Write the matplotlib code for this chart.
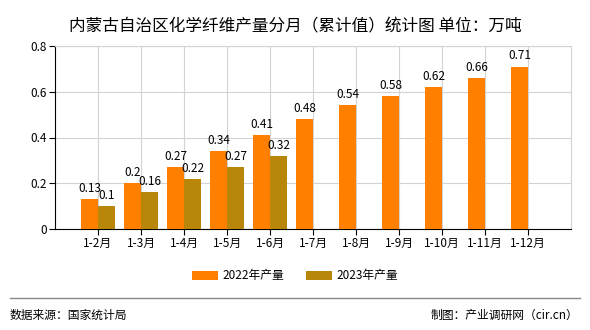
import numpy as np
import matplotlib.pyplot as plt

plt.rcParams['font.family'] = ['Noto Sans CJK SC', 'DejaVu Sans']

# data
months = ["1-2月", "1-3月", "1-4月", "1-5月", "1-6月", "1-7月",
          "1-8月", "1-9月", "1-10月", "1-11月", "1-12月"]
prod_2022 = [0.13, 0.2, 0.27, 0.34, 0.41, 0.48, 0.54, 0.58, 0.62, 0.66, 0.71]
prod_2023 = [0.1, 0.16, 0.22, 0.27, 0.32]

c22 = "#FF8000"
c23 = "#B8860B"

fig = plt.figure(figsize=(5.9, 3.3), dpi=100)
ax = fig.add_axes([55/590, 1 - 229/330, 516/590, 183/330])

x = np.arange(len(months))
w = 0.4
b1 = ax.bar(x - w/2, prod_2022, w, color=c22, label="2022年产量", zorder=3)
x23 = np.arange(len(prod_2023))
b2 = ax.bar(x23 + w/2, prod_2023, w, color=c23, label="2023年产量", zorder=3)

for rects, vals in ((b1, prod_2022), (b2, prod_2023)):
    for r, v in zip(rects, vals):
        ax.annotate(f"{v:g}", (r.get_x() + r.get_width()/2, r.get_height()),
                    xytext=(0, 3), textcoords="offset points",
                    ha="center", va="bottom", fontsize=8.5, zorder=4)

ax.set_xlim(-1, 11)
ax.set_ylim(0, 0.8)
ax.set_xticks(x)
ax.set_xticklabels(months, fontsize=8.5)
ax.set_yticks([0, 0.2, 0.4, 0.6, 0.8])
ax.set_yticklabels(["0", "0.2", "0.4", "0.6", "0.8"], fontsize=8.5)
ax.grid(True, color="#D3D3D3", linewidth=0.8, zorder=0)
ax.set_axisbelow(True)
ax.spines["right"].set_color("#D3D3D3")
ax.spines["top"].set_color("#D3D3D3")
ax.spines["left"].set_color("black")
ax.spines["bottom"].set_color("black")
ax.tick_params(axis="both", length=4, width=0.8, pad=2)

fig.suptitle("内蒙古自治区化学纤维产量分月（累计值）统计图 单位：万吨",
             y=1 - 18/330, fontsize=12)

fig.legend(handles=[b1, b2], loc="center", bbox_to_anchor=(0.5, 1 - 276/330),
           ncol=2, frameon=False, fontsize=8.5, handlelength=2.2,
           handleheight=0.9, columnspacing=1.8, handletextpad=0.4)

fig.add_artist(plt.Line2D([10/590, 580/590], [1 - 298/330, 1 - 298/330],
                          color="#888888", linewidth=1))
fig.text(10/590, 1 - 315/330, "数据来源：国家统计局", fontsize=8.5,
         ha="left", va="center")
fig.text(578/590, 1 - 315/330, "制图：产业调研网（cir.cn）", fontsize=8.5,
         ha="right", va="center")

fig.savefig("out.png", dpi=100)
